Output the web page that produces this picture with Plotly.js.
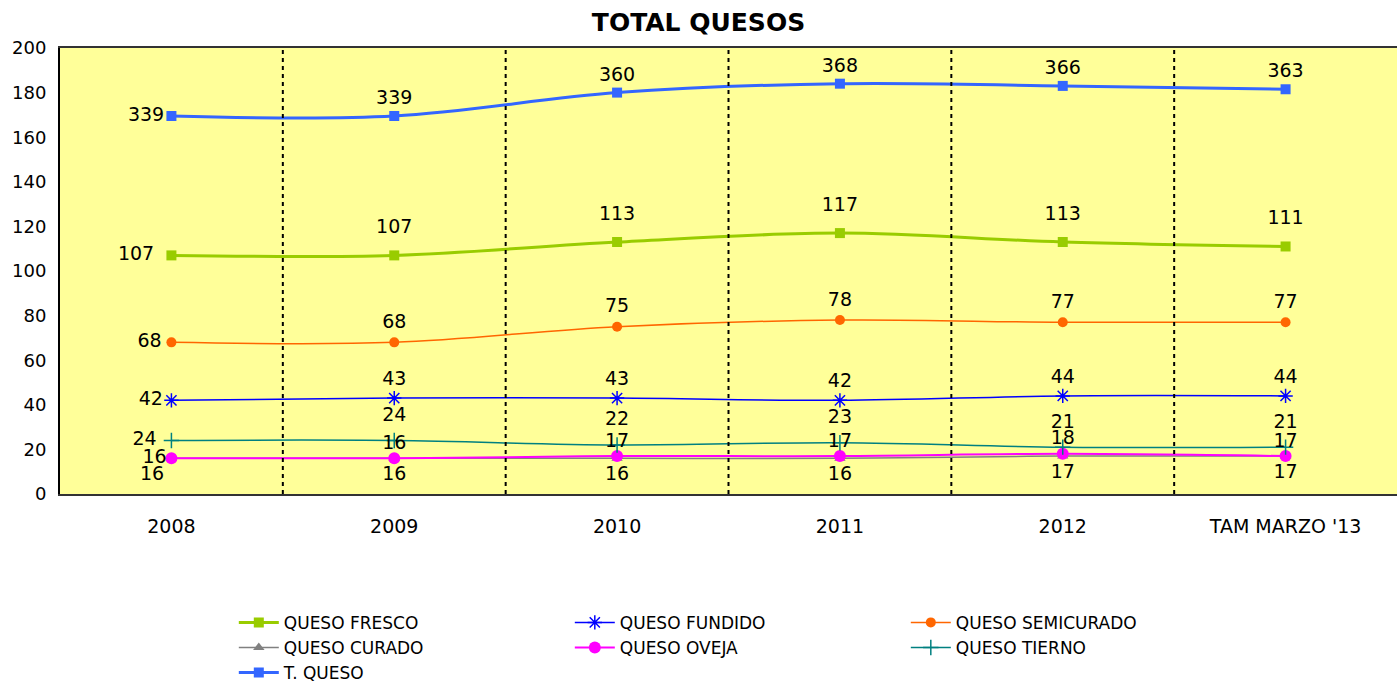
<!DOCTYPE html>
<html>
<head>
<meta charset="utf-8">
<script src="https://cdn.plot.ly/plotly-3.0.1.min.js"></script>
<style>html,body{margin:0;padding:0;background:#fff;}#chart{width:1397px;height:685px;}</style>
</head>
<body>
<div id="chart"></div>
<script>
var categories = ["2008", "2009", "2010", "2011", "2012", "TAM MARZO '13"];
var quesoFresco = [107, 107, 113, 117, 113, 111];
var quesoFundido = [42, 43, 43, 42, 44, 44];
var quesoSemicurado = [68, 68, 75, 78, 77, 77];
var quesoCurado = [16, 16, 16, 16, 17, 17];
var quesoOveja = [16, 16, 17, 17, 18, 17];
var quesoTierno = [24, 24, 22, 23, 21, 21];
var totalQueso = [339, 339, 360, 368, 366, 363];

var FONT = "DejaVu Sans, Verdana, sans-serif";
var xIdx = categories.map(function(c, i){ return i; });
var topPos = ["middle left","top center","top center","top center","top center","top center"];
var botPos = ["bottom left","bottom center","bottom center","bottom center","bottom center","bottom center"];

var data = [];
var labelTraces = [];
function series(name, y, color, width, symbol, msize, pos, yaxis, mline, labelSize) {
  var own = (labelSize === undefined);
  var t = {
    type: "scatter", mode: own ? "lines+markers+text" : "lines+markers", name: name,
    x: xIdx, y: y,
    line: {color: color, width: width, shape: "spline", smoothing: 1},
    marker: {symbol: symbol, size: msize, color: color},
    cliponaxis: false, hoverinfo: "x+y"
  };
  if (own) {
    t.text = y.map(String); t.textposition = pos;
    t.textfont = {family: FONT, size: 19, color: "#000"};
  }
  if (mline) t.marker.line = {color: color, width: mline};
  if (yaxis) t.yaxis = yaxis;
  data.push(t);
  if (!own) {
    var lt = {
      type: "scatter", mode: "markers+text", showlegend: false, hoverinfo: "skip",
      x: xIdx, y: y, text: y.map(String), textposition: pos,
      textfont: {family: FONT, size: 19, color: "#000"},
      marker: {size: labelSize, color: "rgba(0,0,0,0)"}, cliponaxis: false
    };
    if (yaxis) lt.yaxis = yaxis;
    labelTraces.push(lt);
  }
}

series("QUESO FRESCO", quesoFresco, "#99CC00", 3, "square", 10, topPos, null, null, 26);
series("QUESO FUNDIDO", quesoFundido, "#0000FF", 1.5, "asterisk-open", 12, topPos, null, 1.5);
series("QUESO SEMICURADO", quesoSemicurado, "#FF6600", 1.5, "circle", 10, topPos, null, null, 14);
series("QUESO CURADO", quesoCurado, "#808080", 1.5, "triangle-up", 10, botPos);
series("QUESO OVEJA", quesoOveja, "#FF00FF", 2, "circle", 12, topPos, null, null, 0);
series("QUESO TIERNO", quesoTierno, "#008080", 1.5, "cross-thin-open", 11, topPos, null, 1.5, 22);
series("T. QUESO", totalQueso, "#3366FF", 3, "square", 10, topPos, "y2");
data = data.concat(labelTraces);

var shapes = [];
for (var i = 0; i < categories.length - 1; i++) {
  shapes.push({type: "line", xref: "x", yref: "paper", x0: i + 0.5, x1: i + 0.5, y0: 0, y1: 1,
    line: {color: "#000", width: 2, dash: "4px,4px"}, layer: "above"});
}

var layout = {
  width: 1397, height: 685,
  margin: {l: 60, r: 0, t: 48, b: 191, autoexpand: false},
  paper_bgcolor: "#ffffff", plot_bgcolor: "#FFFF99",
  font: {family: FONT, color: "#000"},
  title: {text: "<b>TOTAL QUESOS</b>", font: {family: FONT, size: 25, color: "#000"}, x: 0.5, xanchor: "center", y: 0.967, yanchor: "middle"},
  xaxis: {
    range: [-0.5, 5.5], tickmode: "array", tickvals: xIdx, ticktext: categories, automargin: false,
    showgrid: false, zeroline: false, showline: true, linecolor: "#333", linewidth: 2, mirror: true,
    ticks: "", tickfont: {family: FONT, size: 19, color: "#000"}, ticklabelstandoff: 14
  },
  yaxis: {
    range: [0, 200], dtick: 20, tick0: 0, showgrid: false, zeroline: false, automargin: false,
    showline: true, linecolor: "#000", linewidth: 2, ticks: "", ticklabelstandoff: 8,
    tickfont: {family: FONT, size: 18, color: "#000"}
  },
  yaxis2: {range: [0, 400], overlaying: "y", side: "right", visible: false, showgrid: false, zeroline: false},
  shapes: shapes,
  showlegend: true,
  legend: {
    orientation: "h", xref: "paper", yref: "container", x: 0.130, xanchor: "left", y: 0.117, yanchor: "top",
    font: {family: FONT, size: 17, color: "#000"},
    entrywidth: 281, entrywidthmode: "pixels", tracegroupgap: 0, itemwidth: 40,
    bgcolor: "rgba(0,0,0,0)"
  }
};

Plotly.newPlot("chart", data, layout, {displayModeBar: false, staticPlot: true});
</script>
</body>
</html>
